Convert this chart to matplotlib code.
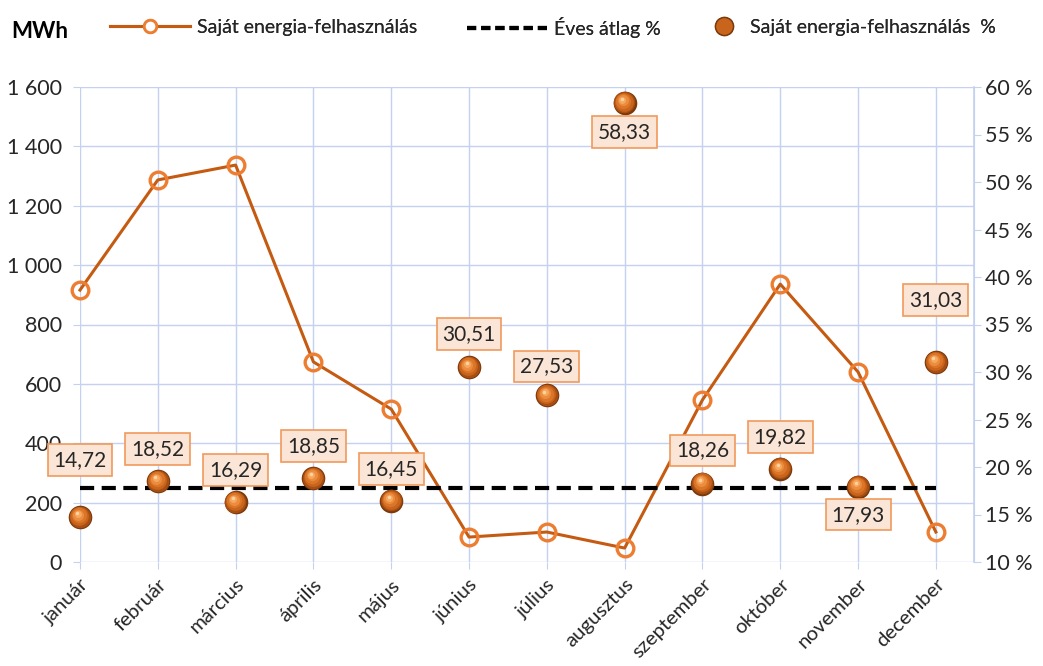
import matplotlib
matplotlib.use("Agg")
import matplotlib.pyplot as plt
from matplotlib.lines import Line2D
from matplotlib.ticker import FuncFormatter, MultipleLocator
from matplotlib.transforms import offset_copy

plt.rcParams['font.family'] = ['Lato', 'DejaVu Sans']

# ---------------- data ----------------
months = ['január', 'február', 'március', 'április', 'május', 'június',
          'július', 'augusztus', 'szeptember', 'október', 'november', 'december']
own_use_mwh = [916, 1287, 1337, 674, 515, 84, 101, 47, 546, 936, 640, 101]
own_use_pct = [14.72, 18.52, 16.29, 18.85, 16.45, 30.51, 27.53, 58.33,
               18.26, 19.82, 17.93, 31.03]
annual_avg_pct = 17.79

series_line = 'Saját energia-felhasználás'
series_avg = 'Éves átlag %'
series_pct = 'Saját energia-felhasználás  %'
left_unit = 'MWh'

# label offsets (pixels, + = above point)
label_dy_px = [57, 32, 32, 32, 32, 33, 29, -29, 33, 32, -28, 62]

# ---------------- style ----------------
GRID = '#C5D1F0'
LINE_C = '#C55A11'
MARK_E = '#ED7D31'
TXT = '#262626'
W, H = 1043, 666
DPI = 100

fig = plt.figure(figsize=(W / DPI, H / DPI), dpi=DPI)
L, R, T, B = 80, 974, 87, 562
ax = fig.add_axes([L / W, 1 - B / H, (R - L) / W, (B - T) / H])
ax2 = ax.twinx()

x = list(range(len(months)))

# left axis
ax.set_xlim(0, 11.49)
ax.set_ylim(0, 1600)
ax.yaxis.set_major_locator(MultipleLocator(200))
ax.yaxis.set_major_formatter(FuncFormatter(lambda v, p: f"{int(v):,}".replace(',', ' ')))
ax.set_xticks(x)
ax.set_xticklabels(months, rotation=45, ha='right', va='top', rotation_mode='anchor',
                   fontsize=14.6, color=TXT)
ax.grid(True, color=GRID, linewidth=1.0)
ax.set_axisbelow(True)
for s in ['left', 'top', 'bottom']:
    ax.spines[s].set_visible(False)
ax.spines['right'].set_color(GRID)
ax.tick_params(axis='x', length=5, color=GRID, pad=5)
ax.tick_params(axis='y', length=5, color=GRID, labelsize=15.5, labelcolor=TXT, pad=8)

# right axis
ax2.set_ylim(10, 60)
ax2.yaxis.set_major_locator(MultipleLocator(5))
ax2.yaxis.set_major_formatter(FuncFormatter(lambda v, p: f"{int(round(v))} %"))
for s in ['left', 'top', 'bottom']:
    ax2.spines[s].set_visible(False)
ax2.spines['right'].set_color(GRID)
ax2.spines['right'].set_linewidth(1.2)
ax2.tick_params(axis='y', length=5, color=GRID, labelsize=15.5, labelcolor=TXT, pad=3)

# line series (left axis)
ax.plot(x, own_use_mwh, color=LINE_C, linewidth=2.2, marker='o', markersize=12,
        markerfacecolor='none', markeredgecolor=MARK_E, markeredgewidth=2.4,
        clip_on=False, zorder=3)

# annual average dashed line
ax2.plot([x[0], x[-1]], [annual_avg_pct, annual_avg_pct], color='black',
         linewidth=3.0, dashes=(3.4, 1.8), zorder=2)

# spheres
layers = [
    (17, '#7A3A0C', 0.0, 0.0),
    (15.5, '#A84E12', -0.2, 0.3),
    (13.5, '#C8641C', -0.5, 0.8),
    (11, '#DB7628', -0.9, 1.3),
    (8, '#EB8C3E', -1.3, 1.8),
    (5, '#F6A85E', -1.6, 2.3),
    (2.5, '#FFD2A0', -1.8, 2.7),
]
for ms, col, dx, dy in layers:
    tr = offset_copy(ax2.transData, fig=fig, x=dx, y=dy, units='points')
    ax2.plot(x, own_use_pct, linestyle='none', marker='o', markersize=ms,
             markerfacecolor=col, markeredgewidth=0, transform=tr,
             clip_on=False, zorder=4)

# data labels
for xi, v, dy in zip(x, own_use_pct, label_dy_px):
    ax2.annotate(f"{v:.2f}".replace('.', ','), (xi, v), xytext=(0, dy * 0.72),
                 textcoords='offset points', ha='center', va='center',
                 fontsize=15, color=TXT, zorder=6, annotation_clip=False,
                 bbox=dict(boxstyle='square,pad=0.28', facecolor='#FBE5D6',
                           edgecolor='#F19A5B', linewidth=1.2))

# legends
h1 = Line2D([], [], color=LINE_C, linewidth=2.2, marker='o', markersize=9,
            markerfacecolor='white', markeredgecolor=MARK_E, markeredgewidth=2)
h2 = Line2D([], [], color='black', linewidth=3, dashes=(2.2, 1.2))
h3 = Line2D([], [], linestyle='none', marker='o', markersize=13,
            markerfacecolor='#C8641C', markeredgecolor='#7A3A0C', markeredgewidth=1)

def add_leg(h, lab, xpx, hl):
    lg = fig.legend([h], [lab], loc='center left', bbox_to_anchor=(xpx / W, 1 - 27 / H),
                    frameon=False, fontsize=14, handlelength=hl, handletextpad=0.35,
                    borderpad=0, borderaxespad=0)
    for t in lg.get_texts():
        t.set_color(TXT)
    fig.add_artist(lg)

add_leg(h1, series_line, 110, 4.1)
add_leg(h2, series_avg, 467, 4.1)
add_leg(h3, series_pct, 706, 1.9)

fig.text(11 / W, 1 - 31 / H, left_unit, fontsize=16, fontweight='bold',
         color='black', ha='left', va='center')

fig.savefig('out.png', dpi=DPI)
